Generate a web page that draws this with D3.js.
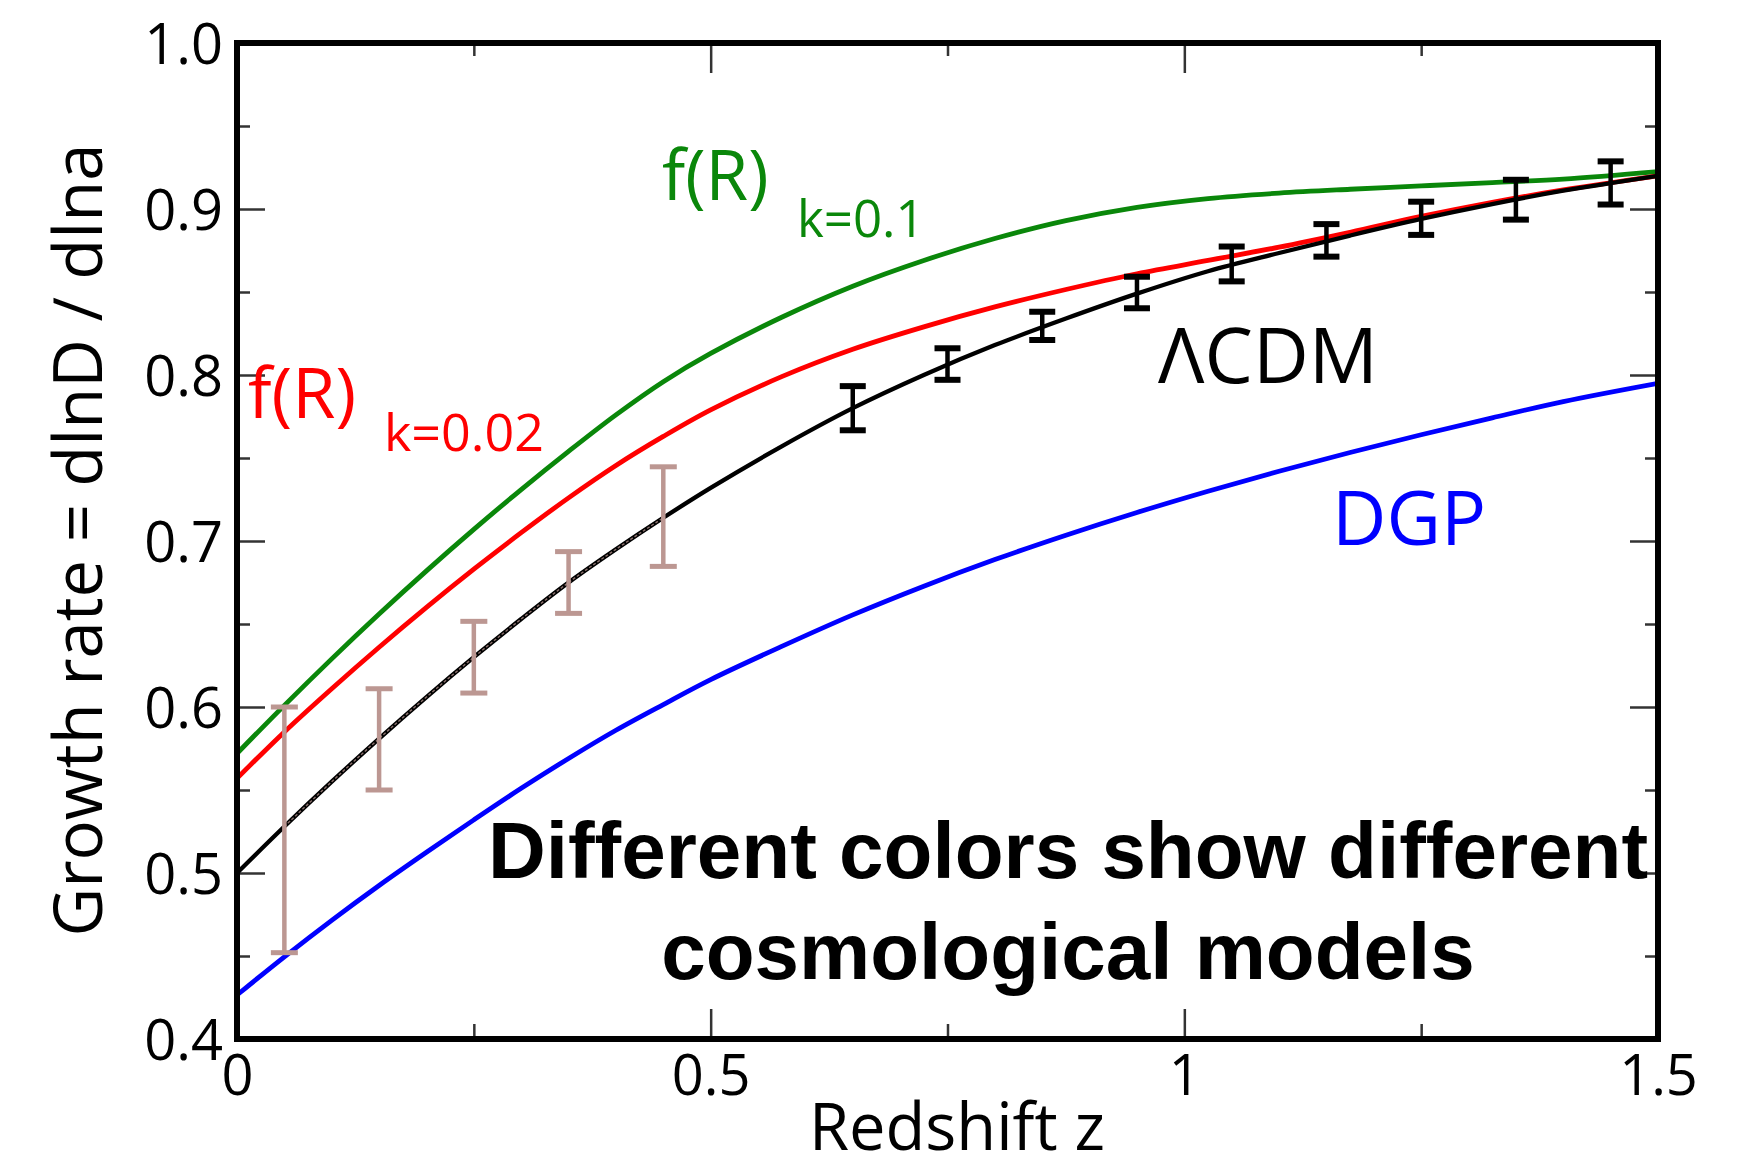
<!DOCTYPE html>
<html>
<head>
<meta charset="utf-8">
<script src="https://cdn.jsdelivr.net/npm/d3@7"></script>
<style>
  html, body { margin: 0; padding: 0; background: #fff; }
  svg { display: block; }
  .tick text { font-family: "Open Sans", "Noto Sans", sans-serif; }
</style>
</head>
<body>
<svg id="chart" width="1748" height="1168"></svg>
<script>
// Redshift grid on which the model growth-rate curves are tabulated
const redshiftGrid = [0, 0.05, 0.1, 0.15, 0.2, 0.25, 0.3, 0.35, 0.4, 0.45, 0.5, 0.575,
  0.65, 0.725, 0.8, 0.875, 0.95, 1.025, 1.1, 1.175, 1.25, 1.325, 1.4, 1.5];

// Growth rate f = dlnD/dlna for each cosmological model
const lcdmGrowth = [0.500, 0.528, 0.555, 0.581, 0.606, 0.630, 0.653, 0.675, 0.695, 0.714, 0.732, 0.757,
  0.780, 0.800, 0.818, 0.834, 0.849, 0.8625, 0.8735, 0.884, 0.894, 0.903, 0.911, 0.920];
const fRk002Growth = [0.557, 0.585, 0.611, 0.636, 0.660, 0.683, 0.705, 0.726, 0.7455, 0.763, 0.779, 0.799,
  0.8155, 0.829, 0.841, 0.8515, 0.861, 0.869, 0.877, 0.886, 0.8955, 0.904, 0.9115, 0.920];
const fRk01Growth = [0.572, 0.601, 0.629, 0.656, 0.682, 0.707, 0.731, 0.754, 0.776, 0.796, 0.813, 0.8348,
  0.8535, 0.869, 0.8822, 0.893, 0.901, 0.9063, 0.9096, 0.9119, 0.9139, 0.9159, 0.918, 0.9225];
const dgpGrowth = [0.4265, 0.4495, 0.4715, 0.4925, 0.5125, 0.532, 0.551, 0.569, 0.586, 0.6015, 0.6165, 0.6365,
  0.6555, 0.6728, 0.6888, 0.7035, 0.7172, 0.730, 0.742, 0.7533, 0.764, 0.7742, 0.784, 0.795];

// Low-redshift measurements (brown) with 1-sigma errors
const surveyZ = [0.05, 0.15, 0.25, 0.35, 0.45];
const surveyF = [0.526, 0.5805, 0.630, 0.675, 0.7147];
const surveyErr = [0.074, 0.0305, 0.0216, 0.0186, 0.030];

// Forecast measurements (black) with 1-sigma errors
const forecastZ = [0.65, 0.75, 0.85, 0.95, 1.05, 1.15, 1.25, 1.35, 1.45];
const forecastF = [0.780, 0.8066, 0.8296, 0.8497, 0.8669, 0.8811, 0.8944, 0.9056, 0.9157];
const forecastErr = [0.0133, 0.0095, 0.0085, 0.0095, 0.0105, 0.0098, 0.010, 0.012, 0.013];

// Axis ticks
const yMajorTicks = [0.4, 0.5, 0.6, 0.7, 0.8, 0.9, 1.0];
const yMinorTicks = [0.45, 0.55, 0.65, 0.75, 0.85, 0.95];
const xMajorTicks = [0, 0.5, 1, 1.5];
const xMinorTicks = [0.25, 0.75, 1.25];

const svg = d3.select("#chart");
const plot = { left: 237, right: 1658, top: 43, bottom: 1039 };

const x = d3.scaleLinear().domain([0, 1.5]).range([plot.left, plot.right]);
const y = d3.scaleLinear().domain([0.4, 1.0]).range([plot.bottom, plot.top]);

const colors = {
  lcdm: "#000000",
  fr002: "#ff0000",
  fr01: "#0a870a",
  dgp: "#0000ff",
  survey: "#bc9792"
};

// Clip curves to the plot frame
svg.append("defs").append("clipPath").attr("id", "plotClip")
  .append("rect")
  .attr("x", plot.left).attr("y", plot.top)
  .attr("width", plot.right - plot.left).attr("height", plot.bottom - plot.top);

// ---- Ticks (all pointing inward) ----
function styleTicks(g) {
  g.select(".domain").remove();
  g.selectAll(".tick line").attr("stroke", "#333").attr("stroke-width", 2.5);
  g.selectAll(".tick text").attr("fill", "#000").attr("font-size", 56);
}

svg.append("g").attr("transform", `translate(${plot.left},0)`)
  .call(d3.axisLeft(y).tickValues(yMajorTicks).tickSize(-28).tickPadding(14)
    .tickFormat(d3.format(".1f")))
  .call(styleTicks)
  .call(g => g.selectAll(".tick text").attr("dy", "0.36em"));
svg.append("g").attr("transform", `translate(${plot.left},0)`)
  .call(d3.axisLeft(y).tickValues(yMinorTicks).tickSize(-13).tickFormat(""))
  .call(styleTicks);
svg.append("g").attr("transform", `translate(${plot.right},0)`)
  .call(d3.axisRight(y).tickValues(yMajorTicks).tickSize(-28).tickFormat(""))
  .call(styleTicks);
svg.append("g").attr("transform", `translate(${plot.right},0)`)
  .call(d3.axisRight(y).tickValues(yMinorTicks).tickSize(-13).tickFormat(""))
  .call(styleTicks);

svg.append("g").attr("transform", `translate(0,${plot.bottom})`)
  .call(d3.axisBottom(x).tickValues(xMajorTicks).tickSize(-30).tickPadding(16)
    .tickFormat(d3.format("~g")))
  .call(styleTicks);
svg.append("g").attr("transform", `translate(0,${plot.bottom})`)
  .call(d3.axisBottom(x).tickValues(xMinorTicks).tickSize(-15).tickFormat(""))
  .call(styleTicks);
svg.append("g").attr("transform", `translate(0,${plot.top})`)
  .call(d3.axisTop(x).tickValues(xMajorTicks).tickSize(-30).tickFormat(""))
  .call(styleTicks);
svg.append("g").attr("transform", `translate(0,${plot.top})`)
  .call(d3.axisTop(x).tickValues(xMinorTicks).tickSize(-13).tickFormat(""))
  .call(styleTicks);

// ---- Model curves ----
const line = d3.line()
  .x(d => x(d[0]))
  .y(d => y(d[1]))
  .curve(d3.curveCatmullRom.alpha(0.5));

const curves = svg.append("g").attr("clip-path", "url(#plotClip)");
const models = [
  { values: dgpGrowth, color: colors.dgp, width: 4.8 },
  { values: fRk01Growth, color: colors.fr01, width: 4.8 },
  { values: fRk002Growth, color: colors.fr002, width: 4.8 },
  { values: lcdmGrowth, color: colors.lcdm, width: 4.3 }
];
models.forEach(m => {
  curves.append("path")
    .datum(redshiftGrid.map((z, i) => [z, m.values[i]]))
    .attr("fill", "none")
    .attr("stroke", m.color)
    .attr("stroke-width", m.width)
    .attr("stroke-linejoin", "round")
    .attr("d", line);
});

// faint brown trace along the ΛCDM curve over the survey range
curves.append("path")
  .datum(redshiftGrid.map((z, i) => [z, lcdmGrowth[i]]).filter(d => d[0] >= 0.05 && d[0] <= 0.45))
  .attr("fill", "none")
  .attr("stroke", "#8a706c")
  .attr("stroke-width", 1.4)
  .attr("stroke-dasharray", "3 2")
  .attr("d", line);

// ---- Error bars ----
function errorBars(zs, fs, errs, color, capHalf, stemW, capW) {
  const g = svg.append("g");
  zs.forEach((z, i) => {
    const cx = x(z), top = y(fs[i] + errs[i]), bot = y(fs[i] - errs[i]);
    g.append("line").attr("x1", cx).attr("x2", cx).attr("y1", top).attr("y2", bot)
      .attr("stroke", color).attr("stroke-width", stemW);
    [top, bot].forEach(yy => g.append("line")
      .attr("x1", cx - capHalf).attr("x2", cx + capHalf).attr("y1", yy).attr("y2", yy)
      .attr("stroke", color).attr("stroke-width", capW));
  });
}
errorBars(surveyZ, surveyF, surveyErr, colors.survey, 13.5, 4.5, 5);
errorBars(forecastZ, forecastF, forecastErr, colors.lcdm, 13, 4.5, 6);

// ---- Frame ----
svg.append("rect")
  .attr("x", plot.left).attr("y", plot.top)
  .attr("width", plot.right - plot.left).attr("height", plot.bottom - plot.top)
  .attr("fill", "none").attr("stroke", "#000").attr("stroke-width", 6);

// ---- Curve labels ----
const labelFont = '"Open Sans", "Noto Sans", sans-serif';
function label(txt, px, py, size, color) {
  svg.append("text").attr("x", px).attr("y", py)
    .attr("font-family", labelFont).attr("font-size", size)
    .attr("fill", color).text(txt);
}
label("f(R)", 662, 200, 69, colors.fr01);
label("k=0.1", 797, 237, 51, colors.fr01);
label("f(R)", 248, 418, 70, colors.fr002);
label("k=0.02", 384, 451, 52, colors.fr002);
label("ΛCDM", 1158, 383, 77, "#000");
label("DGP", 1332, 545, 75, colors.dgp);

// ---- Axis titles ----
svg.append("text")
  .attr("x", 957).attr("y", 1150)
  .attr("text-anchor", "middle")
  .attr("font-family", labelFont).attr("font-size", 65)
  .text("Redshift z");
svg.append("text")
  .attr("transform", "translate(102,540) rotate(-90)")
  .attr("text-anchor", "middle")
  .attr("font-family", labelFont).attr("font-size", 67)
  .text("Growth rate = dlnD / dlna");

// ---- Annotation ----
const note = svg.append("text")
  .attr("text-anchor", "middle")
  .attr("font-family", '"Liberation Sans", Arial, Helvetica, sans-serif')
  .attr("font-weight", "bold").attr("font-size", 80)
  .attr("fill", "#000");
note.append("tspan").attr("x", 1068).attr("y", 878).text("Different colors show different");
note.append("tspan").attr("x", 1068).attr("y", 979).text("cosmological models");
</script>
</body>
</html>
